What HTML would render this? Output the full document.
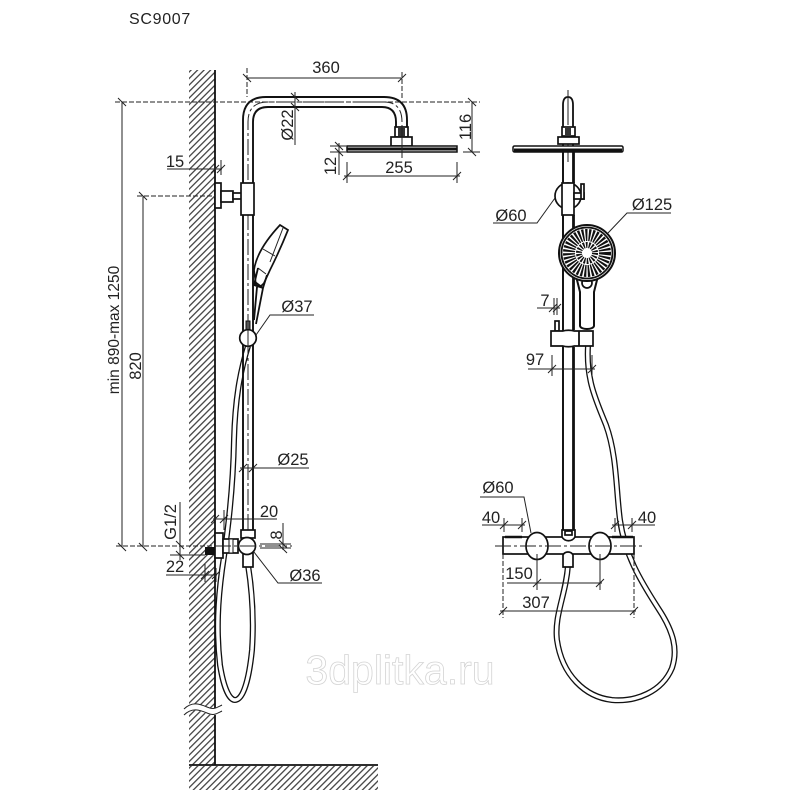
<!DOCTYPE html>
<html><head><meta charset="utf-8"><style>
html,body{margin:0;padding:0;background:#fff}
svg{display:block}
text{font-family:"Liberation Sans",sans-serif;font-size:16.5px;fill:#222;text-anchor:middle}
.k{fill:none;stroke:#111;stroke-width:1.8}
.w{fill:#fff;stroke:#111;stroke-width:1.7}
.d{fill:none;stroke:#222;stroke-width:1}
.da{fill:none;stroke:#222;stroke-width:1;stroke-dasharray:5 2}
.c{fill:none;stroke:#222;stroke-width:1;stroke-dasharray:16 3 3 3}
</style></head><body>
<svg width="800" height="800" viewBox="0 0 800 800" xmlns="http://www.w3.org/2000/svg">
<defs>
<pattern id="h" width="4.6" height="4.6" patternUnits="userSpaceOnUse" patternTransform="rotate(45)">
<rect width="4.6" height="4.6" fill="#fff"/><rect x="0" width="1.3" height="4.6" fill="#444"/>
</pattern>
</defs>
<rect width="800" height="800" fill="#fff"/>
<text x="160" y="24" style="font-size:16px;letter-spacing:.7px">SC9007</text>

<!-- wall / floor -->
<rect x="189" y="70" width="26" height="695" fill="url(#h)"/>
<rect x="189" y="766" width="189" height="24" fill="url(#h)"/>
<path d="M215 70V765M189 765H378" fill="none" stroke="#111" stroke-width="1.8"/>
<path d="M184 710C192 700 200 704 207 707S216 708 222 705V712C216 716 212 716 205 713S192 708 184 716Z" fill="#fff" stroke="none"/>
<path d="M184 709C192 701 200 704 207 707S216 708 222 705M184 715C192 707 200 710 207 713S216 714 222 711" class="d"/>

<!-- hoses -->
<path d="M248 346C240 372 235 400 234 440C233 490 228 530 222 570C218 600 216 630 220 665C224 690 230 700 235 700C243 700 249 680 252 650C254 620 252 590 248 565" fill="none" stroke="#111" stroke-width="6"/>
<path d="M248 346C240 372 235 400 234 440C233 490 228 530 222 570C218 600 216 630 220 665C224 690 230 700 235 700C243 700 249 680 252 650C254 620 252 590 248 565" fill="none" stroke="#fff" stroke-width="3.4"/>
<path d="M588 346C586 380 596 400 606 425C617 455 616 490 620 520C625 555 640 580 658 608C674 632 678 650 672 668C662 692 636 702 612 700C585 697 562 675 557 640C554 615 566 595 568 565" fill="none" stroke="#111" stroke-width="6"/>
<path d="M588 346C586 380 596 400 606 425C617 455 616 490 620 520C625 555 640 580 658 608C674 632 678 650 672 668C662 692 636 702 612 700C585 697 562 675 557 640C554 615 566 595 568 565" fill="none" stroke="#fff" stroke-width="3.4"/>

<!-- side view pipe -->
<path d="M243 530V120Q243 97 266 97H384Q407 97 407 120V128" fill="none" stroke="#111" stroke-width="1.9"/>
<path d="M253 530V122Q253 107 268 107H382Q396 107 396 122V128" fill="none" stroke="#111" stroke-width="1.9"/>
<path d="M248 530V122Q248 102 268 102H384Q402 102 402 122" class="c" stroke-dasharray="14 4"/>
<rect x="395" y="127" width="13" height="10" class="w"/><rect x="398" y="128" width="7" height="8" fill="#333"/>
<rect x="391" y="137" width="21" height="9" class="w"/>
<path d="M347 146H457V152H347Z" fill="#fff" stroke="#111" stroke-width="1.5"/>
<path d="M347 149H457" stroke="#111" stroke-width="3"/>
<path d="M402 125V158" class="d"/>

<!-- bracket -->
<rect x="215" y="183" width="6" height="25" class="w"/>
<rect x="221" y="191" width="12" height="11" class="w"/>
<rect x="233" y="193" width="10" height="6" class="w"/>
<rect x="241" y="183" width="13" height="32" class="w"/>

<!-- side hand shower -->
<path d="M280 225L288 230C282 245 276 258 270 270L264 283C261 287 258 287 256 285L254 270C256 256 266 240 280 225Z" class="w"/>
<path d="M263 249L275 256M283 228L270 262M258 268L266 274" class="d"/>
<path d="M255 282L263 288 M258 268L254 285L263 288L267 275M257 287L254 320M263 288L256 324" class="k"/>
<rect x="246" y="321" width="4" height="10" fill="#555" stroke="#111"/>
<circle cx="248" cy="338" r="8.3" class="w"/>
<path d="M248 330V347" class="d"/>

<!-- side lower -->
<rect x="241" y="530" width="14" height="8" class="w"/>
<rect x="243" y="553" width="10" height="14" class="w"/>
<rect x="215" y="533" width="8" height="25" class="w"/>
<rect x="223" y="539" width="15" height="14" class="w"/>
<rect x="229" y="539" width="4" height="14" fill="#fff" stroke="#111"/>
<circle cx="247" cy="546" r="8.5" class="w" stroke-width="2"/>
<rect x="205" y="547" width="10" height="8" fill="#111"/>

<!-- side dims -->
<path d="M247 78H402M243 74L251 82M398 82L406 74" class="d"/>
<path d="M247 68V97M402 72V100" class="da"/>
<text x="326" y="73">360</text>
<path d="M115 102H480" class="da"/>
<path d="M122 102V547M143 196V547M472 102V152M463 152H480" class="d"/>
<path d="M118 98L126 106M139 192L147 200M118 543L126 551M139 543L147 551M468 98L476 106M468 148L476 156" class="d"/>
<path d="M137 196H215M116 546H215" class="da"/>
<path d="M215 546H292" class="c"/>
<text transform="translate(471,125) rotate(-90)" x="-2" y="0">116</text>
<path d="M295 92V145M291 93L299 101M291 103L299 111" class="d"/>
<text transform="translate(293,125) rotate(-90)">Ø22</text>
<path d="M330 146H346M330 152H346M339 143V175M335 142L343 150M335 148L343 156" class="d"/>
<text transform="translate(336,166) rotate(-90)">12</text>
<path d="M347 162V183M457 162V183M344 176H460M343 180L351 172M453 180L461 172" class="d"/>
<text x="399" y="173">255</text>
<path d="M167 169H222M221 160V175M211 173L219 165M217 173L225 165" class="d"/>
<text x="175" y="167">15</text>
<text transform="translate(119,330) rotate(-90)" style="font-size:15.5px">min 890-max 1250</text>
<text transform="translate(141,366) rotate(-90)">820</text>
<path d="M256 335L270 315H314" class="d"/>
<text x="297" y="312">Ø37</text>
<path d="M240 468H309M239 472L247 464M249 472L257 464" class="d"/>
<text x="293" y="465">Ø25</text>
<path d="M213 519H277M224 510V530M211 523L219 515M220 523L228 515" class="d"/>
<text x="269" y="517">20</text>
<path d="M180 502V560M170 555H205M176 541L184 549M176 551L184 559" class="d"/>
<text transform="translate(176,522) rotate(-90)">G1/2</text>
<path d="M166 575H217M205 564V582M216 568V582M201 579L209 571M212 579L220 571" class="d"/>
<text x="175" y="572">22</text>
<path d="M283 523V550M260 544H291M260 548H291M279 540L287 548M279 545L287 553" class="d"/>
<text transform="translate(282,535) rotate(-90)">8</text>
<path d="M254 552L278 583H322" class="d"/>
<text x="305" y="581">Ø36</text>

<!-- front view -->
<path d="M563 530V105Q563 97 568 97Q573 97 573 105V530" class="k"/>
<path d="M568 90V125M568 135V162" class="d"/>
<rect x="562" y="127" width="13" height="9" class="w"/><rect x="565" y="128" width="6" height="7" fill="#333"/>
<rect x="558" y="137" width="21" height="7" class="w"/>
<rect x="513" y="146" width="110" height="6" rx="1.5" fill="#fff" stroke="#111" stroke-width="1.5"/>
<path d="M514 150H622" stroke="#111" stroke-width="3"/>
<path d="M563 152V183M574 152V183" class="k"/>
<circle cx="568" cy="196" r="13" class="w"/>
<rect x="562" y="183" width="12" height="32" class="w"/>
<rect x="574" y="193" width="10" height="6" class="w"/>
<rect x="581" y="184" width="3" height="15" class="w"/>
<path d="M563 215V330M574 215V330" class="k"/>

<!-- front hand shower -->
<path d="M576 276C578 284 579 288 580 292V326C581 330 593 330 594 326V292C595 288 596 284 598 276Z" fill="#fff" stroke="#111" stroke-width="2"/>
<circle cx="587" cy="283" r="5" class="w"/>
<circle cx="587" cy="253" r="28" fill="#fff" stroke="#111" stroke-width="2"/>
<circle cx="587" cy="253" r="25.5" fill="#fff" stroke="#111" stroke-width="1.8"/>
<circle cx="587" cy="253" r="18" fill="none" stroke="#111" stroke-width="12" stroke-dasharray="1.9 1.3"/>
<circle cx="587" cy="253" r="8" fill="none" stroke="#111" stroke-width="6" stroke-dasharray="1.6 1.2"/>
<circle cx="587" cy="253" r="1.5" fill="#fff"/>
<!-- clamp -->
<rect x="555" y="321" width="4" height="10" class="w"/>
<path d="M551 331H563C566 330 571 330 574 331H593V346H574C571 347 566 347 563 346H551Z" class="w"/>
<path d="M579 331V346" class="k"/>
<path d="M563 347V530M574 347V530" class="k"/>

<!-- front lower -->
<rect x="503" y="537" width="131" height="17" class="w"/>
<path d="M505 537H522M612 537H633" stroke="#111" stroke-width="2.4"/>
<ellipse cx="537" cy="546" rx="11" ry="13.5" class="w"/>
<ellipse cx="600" cy="546" rx="11" ry="13.5" class="w"/>
<path d="M495 546H644" class="c" stroke-dasharray="22 3 3 3"/>
<path d="M562 530H575V537C572 542 565 542 562 537Z" class="w"/>
<rect x="565" y="531" width="7" height="4" class="w" stroke-width="1"/>
<path d="M563 567V555C565 551 571 551 573 555V567Z" class="w"/>

<!-- front dims -->
<path d="M555 198L537 223H493" class="d"/>
<text x="511" y="221">Ø60</text>
<path d="M608 233L627 213H671" class="d"/>
<text x="652" y="210">Ø125</text>
<path d="M537 308H560M554 298V315M557 298V315M549 312L557 304M553 312L561 304" class="d"/>
<text x="545" y="306">7</text>
<path d="M528 369H595M552 355V376M592 355V376M548 373L556 365M588 373L596 365" class="d"/>
<text x="535" y="365">97</text>
<path d="M480 497H524L531 533" class="d"/>
<text x="498" y="493">Ø60</text>
<path d="M482 525H525M504 518V532M522 518V532M500 529L508 521M518 529L526 521" class="d"/>
<text x="491" y="523">40</text>
<path d="M612 525H655M615 518V532M632 518V532M611 529L619 521M628 529L636 521" class="d"/>
<text x="647" y="523">40</text>
<path d="M507 583H602M537 554V590M600 554V590M533 587L541 579M596 587L604 579" class="d"/>
<text x="519" y="579">150</text>
<path d="M500 611H636M499 615L507 607M630 615L638 607" class="d"/>
<path d="M503 554V618M634 554V618" class="da"/>
<text x="536" y="608">307</text>

<text x="400" y="684" style="font-size:41px;fill:#fff;stroke:#d4d4d4;stroke-width:.8">3dplitka.ru</text>
</svg>
</body></html>
